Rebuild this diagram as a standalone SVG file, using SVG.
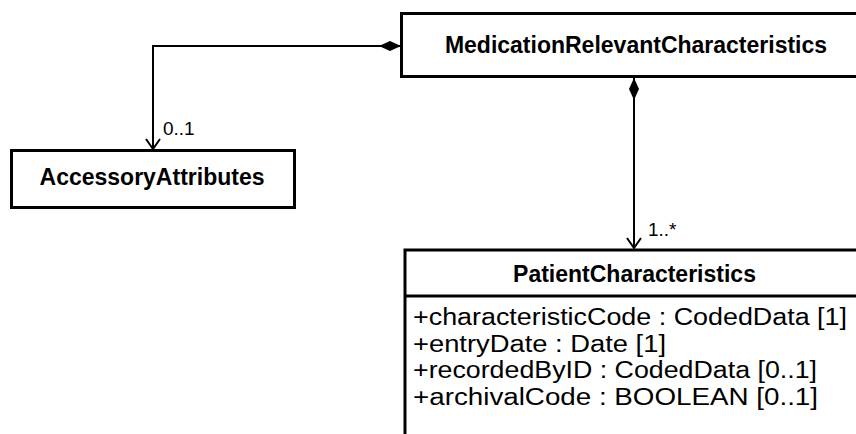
<svg xmlns="http://www.w3.org/2000/svg" width="856" height="434" viewBox="0 0 856 434">
<defs>
<marker id="diamond" markerWidth="24" markerHeight="12" refX="0" refY="6" orient="auto" markerUnits="userSpaceOnUse">
<path d="M0,6 L11,1 L22,6 L11,11 Z" fill="#000"/>
</marker>
<marker id="open" markerWidth="18" markerHeight="18" refX="11" refY="8" orient="auto" markerUnits="userSpaceOnUse">
<path d="M1,1 L11,8 L1,15" fill="none" stroke="#000" stroke-width="2"/>
</marker>
</defs>
<style>
.box{fill:#fff;stroke:#000;stroke-width:3}
.title{font-family:"Liberation Sans",Arial,sans-serif;font-weight:bold;font-size:23px;text-anchor:middle;fill:#000}
.attr{font-family:"Liberation Sans",Arial,sans-serif;font-size:23px;fill:#000}
.mult{font-family:"Liberation Sans",Arial,sans-serif;font-size:19px;fill:#000}
.conn{fill:none;stroke:#000;stroke-width:2}
</style>
<rect width="856" height="434" fill="#fff"/>
<g id="MedicationRelevantCharacteristics">
<rect class="box" x="401.5" y="13.5" width="470" height="63"/>
<text class="title" x="636" y="53">MedicationRelevantCharacteristics</text>
</g>
<g id="AccessoryAttributes">
<rect class="box" x="11.5" y="150.5" width="283" height="57"/>
<text class="title" x="152" y="185">AccessoryAttributes</text>
</g>
<g id="PatientCharacteristics">
<rect class="box" x="405" y="250" width="460" height="200"/>
<line x1="405" y1="296" x2="865" y2="296" stroke="#000" stroke-width="3"/>
<text class="title" x="634.5" y="282">PatientCharacteristics</text>
<text class="attr" x="413" y="325" textLength="434" lengthAdjust="spacingAndGlyphs">+characteristicCode : CodedData [1]</text>
<text class="attr" x="413" y="351.5" textLength="253" lengthAdjust="spacingAndGlyphs">+entryDate : Date [1]</text>
<text class="attr" x="413" y="378" textLength="404" lengthAdjust="spacingAndGlyphs">+recordedByID : CodedData [0..1]</text>
<text class="attr" x="413" y="404.5" textLength="405" lengthAdjust="spacingAndGlyphs">+archivalCode : BOOLEAN [0..1]</text>
</g>
<g id="connectors">
<path class="conn" d="M401,46 L153,46 L153,149" marker-start="url(#diamond)" marker-end="url(#open)"/>
<path class="conn" d="M634,78 L634,248" marker-start="url(#diamond)" marker-end="url(#open)"/>
<text class="mult" x="163" y="135">0..1</text>
<text class="mult" x="648" y="236">1..*</text>
</g>
</svg>
